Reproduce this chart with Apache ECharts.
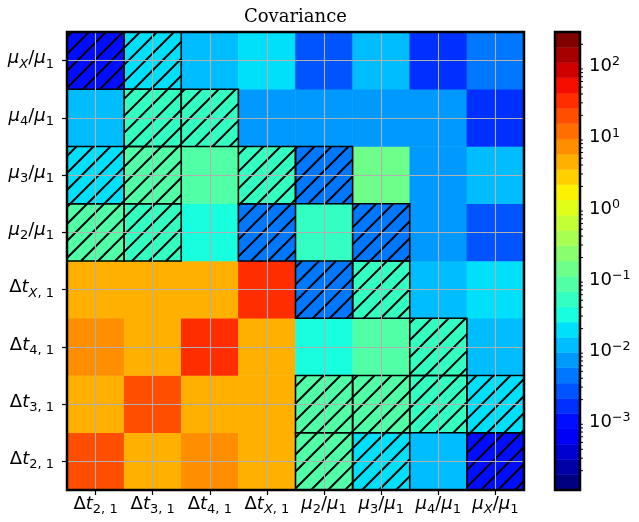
<!DOCTYPE html>
<html>
<head>
<meta charset="utf-8">
<script src="https://cdn.jsdelivr.net/npm/echarts@6/dist/echarts.min.js"></script>
<style>
  html, body { margin: 0; padding: 0; background: #fff; }
  #chart { width: 639px; height: 522px; }
</style>
</head>
<body>
<div id="chart"></div>
<script>
// Parameter labels, shared by both axes (the y axis runs bottom to top)
const categories = ['Δt_{2, 1}', 'Δt_{3, 1}', 'Δt_{4, 1}', 'Δt_{X, 1}',
                    'μ_{2}/μ_{1}', 'μ_{3}/μ_{1}', 'μ_{4}/μ_{1}', 'μ_{X}/μ_{1}'];

// Covariance entries, one array per row; negative entries are drawn hatched
const rowDt2 = [19.5, 4.4, 7.2, 4.6, -0.085, -0.019, 0.012, -0.00098];
const rowDt3 = [4.4, 21.0, 4.3, 4.5, -0.08, -0.085, -0.05, -0.02];
const rowDt4 = [7.3, 4.4, 32.0, 4.5, 0.032, 0.09, -0.055, 0.012];
const rowDtX = [4.5, 4.5, 4.5, 31.0, -0.0045, -0.05, 0.012, 0.019];
const rowMu2 = [-0.085, -0.05, 0.033, -0.0044, 0.052, -0.0042, 0.0072, 0.0027];
const rowMu3 = [-0.019, -0.085, 0.088, -0.05, -0.0043, 0.14, 0.007, 0.012];
const rowMu4 = [0.012, -0.05, -0.055, 0.0072, 0.0072, 0.007, 0.0072, 0.0016];
const rowMuX = [-0.00098, -0.02, 0.012, 0.019, 0.0027, 0.012, 0.0016, 0.0044];
const covariance = [rowDt2, rowDt3, rowDt4, rowDtX, rowMu2, rowMu3, rowMu4, rowMuX];

// Colour scale: |covariance| on a log axis, 30 discrete jet levels
const CB_MIN = 1.07e-4;
const CB_MAX = 298;
const N_LEVELS = 30;
const cbMinorMultipliers = [2, 3, 4, 5, 6, 7, 8, 9];

// matplotlib "jet" segment data
const JET_R = [[0, 0], [0.35, 0], [0.66, 1], [0.89, 1], [1, 0.5]];
const JET_G = [[0, 0], [0.125, 0], [0.375, 1], [0.64, 1], [0.91, 0], [1, 0]];
const JET_B = [[0, 0.5], [0.11, 1], [0.34, 1], [0.65, 0], [1, 0]];
function interp(segs, t) {
  for (let k = 1; k < segs.length; k++) {
    if (t <= segs[k][0]) {
      const [x0, y0] = segs[k - 1], [x1, y1] = segs[k];
      return y0 + (y1 - y0) * (t - x0) / (x1 - x0);
    }
  }
  return segs[segs.length - 1][1];
}
function jet(t) {
  return 'rgb(' + [JET_R, JET_G, JET_B].map(s => Math.round(255 * interp(s, t))).join(',') + ')';
}

const logMin = Math.log10(CB_MIN), logMax = Math.log10(CB_MAX);
const step = (logMax - logMin) / N_LEVELS;
const pieces = [];
const bandData = [];
for (let i = 0; i < N_LEVELS; i++) {
  const lo = logMin + i * step, hi = lo + step;
  pieces.push({ gte: lo, lt: i === N_LEVELS - 1 ? hi + 1 : hi, color: jet(i / (N_LEVELS - 1)) });
  bandData.push([Math.pow(10, lo), Math.pow(10, hi), lo + step / 2]);
}

const minorTicks = [];
for (let e = Math.floor(logMin); e <= Math.ceil(logMax); e++) {
  cbMinorMultipliers.forEach(m => {
    const v = m * Math.pow(10, e);
    if (v > CB_MIN && v < CB_MAX) minorTicks.push([1, v]);
  });
}

const heatData = [];
const hatchData = [];
covariance.forEach((row, yi) => row.forEach((v, xi) => {
  heatData.push([xi, yi, Math.log10(Math.abs(v))]);
  if (v < 0) hatchData.push([xi, yi]);
}));

// mathtext-like labels: '_{...}' is a subscript, letters are italic
function richLabel(str) {
  const parts = str.split(/_\{([^}]*)\}/);
  let out = '';
  parts.forEach((p, idx) => {
    const sub = idx % 2 === 1;
    let cur = '', curKey = null;
    for (const ch of p) {
      const key = (sub ? 's' : 'm') + (/[A-Za-zμ]/.test(ch) ? 'i' : 'r');
      if (key !== curKey && cur) { out += '{' + curKey + '|' + cur + '}'; cur = ''; }
      curKey = key; cur += ch;
    }
    if (cur) out += '{' + curKey + '|' + cur + '}';
  });
  return out;
}
const FONT = 'DejaVu Sans';
const labelRich = {
  mr: { fontFamily: FONT, fontSize: 18, lineHeight: 22, verticalAlign: 'top', color: '#000' },
  mi: { fontFamily: FONT, fontSize: 18, lineHeight: 22, verticalAlign: 'top', fontStyle: 'italic', color: '#000' },
  sr: { fontFamily: FONT, fontSize: 13, lineHeight: 14, padding: [8, 0, 0, 0], verticalAlign: 'top', color: '#000' },
  si: { fontFamily: FONT, fontSize: 13, lineHeight: 14, padding: [8, 0, 0, 0], verticalAlign: 'top', fontStyle: 'italic', color: '#000' }
};
const powRich = {
  b: { fontFamily: FONT, fontSize: 18, lineHeight: 20, padding: [2, 0, 0, 0], verticalAlign: 'top', color: '#000' },
  e: { fontFamily: FONT, fontSize: 12.6, lineHeight: 12, verticalAlign: 'top', color: '#000' }
};

const HATCH_STEP = 17;
const HATCH_PHASE = 2;

const chart = echarts.init(document.getElementById('chart'));
chart.setOption({
  animation: false,
  backgroundColor: '#fff',
  title: {
    text: 'Covariance',
    left: 239,
    top: 3,
    textStyle: { fontFamily: 'DejaVu Serif', fontSize: 18, fontWeight: 'normal', color: '#000' }
  },
  grid: [
    { left: 67, top: 32, width: 457, height: 458, show: true, borderColor: '#000', borderWidth: 2.5,
      backgroundColor: 'transparent', z: 10, outerBoundsMode: 'none', containLabel: false },
    { left: 555, top: 32, width: 25, height: 458, show: true, borderColor: '#000', borderWidth: 2.5,
      backgroundColor: 'transparent', z: 10, outerBoundsMode: 'none', containLabel: false }
  ],
  xAxis: [
    {
      type: 'category', gridIndex: 0, data: categories, z: 5,
      axisLine: { show: false },
      axisTick: { show: true, alignWithLabel: true, length: 5, lineStyle: { color: '#000', width: 1.2 } },
      axisLabel: { interval: 0, margin: 5, formatter: richLabel, rich: labelRich },
      splitLine: { show: true, alignWithLabel: true, interval: 0, lineStyle: { color: '#b0b0b0', width: 1.1 } }
    },
    { type: 'value', gridIndex: 1, min: 0, max: 1, show: false }
  ],
  yAxis: [
    {
      type: 'category', gridIndex: 0, data: categories, z: 5,
      axisLine: { show: false },
      axisTick: { show: true, alignWithLabel: true, length: 5, lineStyle: { color: '#000', width: 1.2 } },
      axisLabel: { interval: 0, margin: 13, formatter: richLabel, rich: labelRich },
      splitLine: { show: true, alignWithLabel: true, interval: 0, lineStyle: { color: '#b0b0b0', width: 1.1 } }
    },
    {
      type: 'log', logBase: 10, gridIndex: 1, min: CB_MIN, max: CB_MAX, position: 'right',
      axisLine: { show: false },
      axisTick: { show: true, length: 5, lineStyle: { color: '#000', width: 1.2 } },
      splitLine: { show: false },
      axisLabel: {
        margin: 9,
        showMinLabel: false, showMaxLabel: false,
        formatter: function (v) {
          const e = Math.log10(v);
          if (Math.abs(e - Math.round(e)) > 1e-6) return '';
          const r = Math.round(e);
          return '{b|10}{e|' + (r < 0 ? '−' + (-r) : r) + '}';
        },
        rich: powRich
      }
    }
  ],
  visualMap: {
    type: 'piecewise', show: false, dimension: 2, seriesIndex: [0, 2], pieces: pieces
  },
  series: [
    {
      type: 'heatmap', xAxisIndex: 0, yAxisIndex: 0, data: heatData,
      itemStyle: { borderWidth: 0 }, emphasis: { disabled: true }
    },
    {
      type: 'custom', xAxisIndex: 0, yAxisIndex: 0, data: hatchData, z: 3,
      renderItem: function (params, api) {
        const c = api.coord([api.value(0), api.value(1)]);
        const s = api.size([1, 1]);
        const x0 = c[0] - s[0] / 2, y0 = c[1] - s[1] / 2, w = s[0], h = s[1];
        const children = [];
        const k0 = Math.floor((x0 + y0 - HATCH_PHASE) / HATCH_STEP);
        const k1 = Math.ceil((x0 + w + y0 + h - HATCH_PHASE) / HATCH_STEP);
        for (let k = k0; k <= k1; k++) {
          const C = HATCH_PHASE + k * HATCH_STEP;
          const xa = Math.max(x0, C - y0 - h), xb = Math.min(x0 + w, C - y0);
          if (xb > xa) {
            children.push({ type: 'line', shape: { x1: xa, y1: C - xa, x2: xb, y2: C - xb },
              style: { stroke: '#000', lineWidth: 2 } });
          }
        }
        children.push({ type: 'rect', shape: { x: x0, y: y0, width: w, height: h },
          style: { fill: null, stroke: '#000', lineWidth: 1.6 } });
        return { type: 'group', children: children };
      }
    },
    {
      type: 'custom', xAxisIndex: 1, yAxisIndex: 1, data: bandData, z: 2,
      renderItem: function (params, api) {
        const top = api.coord([0, api.value(1)]);
        const bot = api.coord([1, api.value(0)]);
        const col = api.visual('color');
        return { type: 'rect', shape: { x: top[0], y: top[1], width: bot[0] - top[0], height: bot[1] - top[1] },
          style: { fill: col, stroke: col, lineWidth: 0.5 } };
      }
    },
    {
      type: 'custom', xAxisIndex: 1, yAxisIndex: 1, data: minorTicks, z: 3,
      renderItem: function (params, api) {
        const p = api.coord([api.value(0), api.value(1)]);
        return { type: 'line', shape: { x1: p[0], y1: p[1], x2: p[0] + 3, y2: p[1] },
          style: { stroke: '#000', lineWidth: 1 } };
      }
    }
  ]
});
</script>
</body>
</html>
